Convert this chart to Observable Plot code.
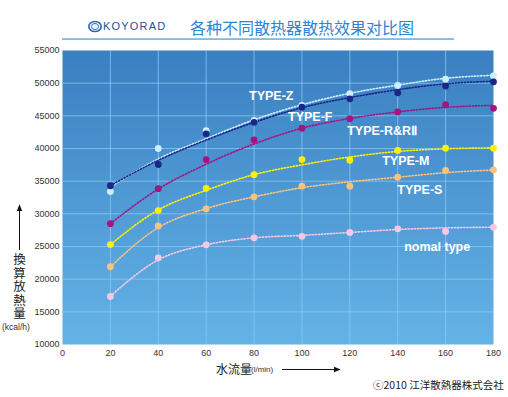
<!DOCTYPE html>
<html><head><meta charset="utf-8">
<script src="https://cdn.jsdelivr.net/npm/d3@7"></script>
<script src="https://cdn.jsdelivr.net/npm/@observablehq/plot@0.6"></script>
<style>
body{margin:0;background:#fff;}
#wrap{position:relative;width:508px;height:397px;overflow:hidden;font-family:"Liberation Sans",Arial,sans-serif;}
#wrap svg{position:absolute;left:0;top:0;}
.abs{position:absolute;white-space:nowrap;}
.cjk{font-family:"Noto Sans CJK JP","Noto Sans CJK SC",sans-serif;}
</style></head><body><div id="wrap"></div>
<script>
// ---- data ----
const flow = [20, 40, 60, 80, 100, 120, 140, 160, 180];          // l/min
const xTicks = [0, 20, 40, 60, 80, 100, 120, 140, 160, 180];
const yTicks = [10000, 15000, 20000, 25000, 30000, 35000, 40000, 45000, 50000, 55000];

const seriesNames  = ["nomal type", "TYPE-S", "TYPE-M", "TYPE-R&RⅡ", "TYPE-Z", "TYPE-F"];
const seriesColors = ["#f7c8e3", "#f8c27f", "#fff000", "#a2167f", "#cdeefb", "#1c2688"];

// measured points (kcal/h)
const ptNomal = [17350, 23250, 25260, 26330, 26550, 27140, 27700, 27300, 27940];
const ptS     = [21900, 28150, 30770, 32600, 34230, 34230, 35600, 36630, 36740];
const ptM     = [25300, 30500, 33900, 36000, 38300, 38200, 39700, 40050, 40050];
const ptR     = [28500, 33850, 38300, 41300, 43100, 44550, 45600, 46700, 46150];
const ptZ     = [33400, 40000, 42750, 44300, 46600, 48400, 49650, 50600, 51100];
const ptF     = [34300, 37550, 42250, 44000, 46330, 47600, 48520, 49550, 50200];

// dotted trend curves, read at each flow value
const trNomal = [17400, 22950, 25260, 26330, 26700, 27150, 27600, 27850, 27950];
const trS     = [21900, 27900, 30800, 32600, 34000, 34900, 35600, 36300, 36700];
const trM     = [25300, 30600, 33600, 36000, 37500, 38700, 39550, 39950, 40100];
const trR     = [28500, 33800, 37600, 40700, 43100, 44600, 45600, 46300, 46600];
const trZ     = [34100, 38400, 41500, 44400, 46700, 48450, 49700, 50750, 51200];
const trF     = [34300, 38200, 41300, 44000, 46250, 47800, 49000, 49900, 50300];

// series label anchors (data coordinates)
const labelX = [142.7, 139.8, 133.5, 118.9, 77.9, 94.2];
const labelY = [25000, 33700, 38050, 42650, 48100, 44750];

// ---- build tables ----
const ptSets = [ptNomal, ptS, ptM, ptR, ptZ, ptF];
const trSets = [trNomal, trS, trM, trR, trZ, trF];
const pointRows = ptSets.flatMap((vals, i) => vals.map((v, j) => ({name: seriesNames[i], color: seriesColors[i], x: flow[j], v})));
const trendRows = trSets.flatMap((vals, i) => vals.map((v, j) => ({name: seriesNames[i], color: seriesColors[i], x: flow[j], v})));
const labelRows = seriesNames.map((n, i) => ({text: n, x: labelX[i], v: labelY[i]}));

const chart = Plot.plot({
  width: 508, height: 397,
  marginLeft: 62, marginRight: 15, marginTop: 50, marginBottom: 53,
  x: {domain: [0, 180], ticks: xTicks, tickSize: 0, tickPadding: 5, label: null},
  y: {domain: [10000, 55000], ticks: yTicks, tickSize: 0, tickPadding: 3, label: null, tickFormat: d => String(d)},
  color: {type: "identity"},
  style: {fontSize: "9px", fontFamily: "'Liberation Sans', Arial, sans-serif", color: "#333", background: "transparent", overflow: "visible"},
  marks: [
    Plot.frame({fill: "url(#bgGrad)", stroke: "none"}),
    Plot.ruleX(xTicks.slice(1, -1), {stroke: "#8ccaf2", strokeWidth: 1, strokeOpacity: 0.75}),
    Plot.ruleY(yTicks.slice(1, -1), {stroke: "#8ccaf2", strokeWidth: 1, strokeOpacity: 0.75}),
    Plot.line(trendRows, {x: "x", y: "v", z: "name", stroke: "color", strokeWidth: 1.6, strokeDasharray: "1.3 1.8", curve: "monotone-x"}),
    Plot.dot(pointRows, {x: "x", y: "v", fill: "color", r: 3.4, stroke: "none"}),
    Plot.text(labelRows, {x: "x", y: "v", text: "text", fill: "white", fontWeight: "bold", fontSize: 12.5, textAnchor: "start", fontFamily: "'Liberation Sans', Arial, sans-serif"})
  ]
});

const defs = d3.select(chart).insert("defs", ":first-child");
const grad = defs.append("linearGradient").attr("id", "bgGrad").attr("x1", 0).attr("y1", 0).attr("x2", 0).attr("y2", 1);
grad.append("stop").attr("offset", "0%").attr("stop-color", "#3a7fc1");
grad.append("stop").attr("offset", "100%").attr("stop-color", "#64b3e7");

const wrap = document.getElementById("wrap");
wrap.appendChild(chart);

// decorations overlay
const deco = `
<svg width="508" height="397" style="position:absolute;left:0;top:0;pointer-events:none">
  <defs>
    <marker id="ah" viewBox="0 0 10 10" refX="9" refY="5" markerWidth="7" markerHeight="7" orient="auto-start-reverse">
      <path d="M0,1 L10,5 L0,9 Z" fill="#111"/>
    </marker>
  </defs>
  <ellipse cx="95" cy="26.5" rx="6.2" ry="5" fill="none" stroke="#2a63b8" stroke-width="1.6"/>
  <ellipse cx="95" cy="26.5" rx="3.6" ry="3" fill="none" stroke="#2a63b8" stroke-width="1"/>
  <rect x="62" y="38.3" width="392" height="1.5" fill="#66abdf"/>
  <line x1="19.5" y1="250" x2="19.5" y2="205" stroke="#111" stroke-width="1" marker-end="url(#ah)"/>
  <line x1="282" y1="369.5" x2="340" y2="369.5" stroke="#111" stroke-width="1" marker-end="url(#ah)"/>
</svg>`;
wrap.insertAdjacentHTML("beforeend", deco);

function addText(html, css, cls) {
  const d = document.createElement("div");
  d.className = "abs " + (cls || "");
  d.innerHTML = html;
  d.setAttribute("style", css);
  wrap.appendChild(d);
}
addText("KOYORAD", "left:103px;top:21px;font-size:11px;line-height:11px;letter-spacing:1.2px;color:#1f4f9e;");
addText("各种不同散热器散热效果对比图", "left:190px;top:18px;font-size:16px;line-height:18px;color:#2e86d1;font-family:'Noto Sans CJK SC',sans-serif;");
addText("換算放熱量", "left:12px;top:253px;font-size:12.5px;line-height:15px;letter-spacing:1.1px;color:#222;writing-mode:vertical-rl;text-orientation:upright;", "cjk");
addText("(kcal/h)", "left:2px;top:322px;font-size:8.5px;line-height:10px;color:#333;");
addText("水流量", "left:216px;top:362px;font-size:12px;line-height:14px;color:#222;", "cjk");
addText("(l/min)", "left:251px;top:365px;font-size:8px;line-height:9px;color:#333;");
addText("ⓒ2010 江洋散熱器株式会社", "left:373px;top:379px;font-size:10.5px;line-height:12px;color:#222;", "cjk");
</script>
</body></html>
